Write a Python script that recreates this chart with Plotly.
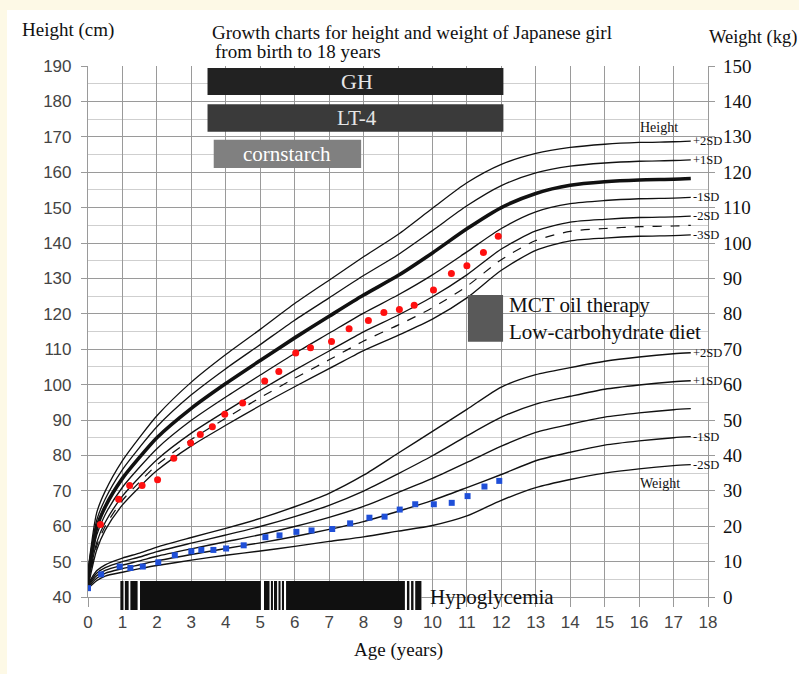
import plotly.graph_objects as go

# ---------------- data ----------------
ages = [0, 0.25, 0.5, 1, 1.5, 2, 3, 4, 5, 6, 7, 8, 9, 10, 11, 12, 13, 14, 15, 16, 17, 17.5]

h_p2sd = [47.3, 63.7, 69.9, 78.5, 85.1, 91.2, 100.7, 108.5, 115.6, 122.9, 129.5, 136.1, 142.4, 149.8, 157.0, 162.2, 165.3, 167.0, 167.9, 168.4, 168.6, 168.8]
h_p1sd = [46.4, 61.6, 67.7, 76.0, 82.3, 88.1, 97.1, 104.5, 111.3, 118.2, 124.5, 130.8, 136.7, 143.5, 150.5, 156.2, 159.8, 161.7, 162.6, 163.1, 163.3, 163.5]
h_mean = [45.5, 59.5, 65.5, 73.5, 79.5, 85.0, 93.3, 100.3, 106.8, 113.2, 119.3, 125.3, 130.8, 137.2, 144.0, 150.0, 154.0, 156.3, 157.3, 157.8, 158.0, 158.2]
h_m1sd = [44.6, 57.4, 63.3, 71.0, 76.7, 81.9, 89.9, 96.5, 102.7, 108.8, 114.5, 120.2, 125.3, 131.0, 137.5, 144.1, 148.8, 151.1, 152.0, 152.5, 152.7, 152.9]
h_m2sd = [43.7, 55.3, 61.1, 68.5, 73.9, 78.8, 86.3, 92.5, 98.4, 104.1, 109.5, 114.9, 119.6, 124.8, 131.0, 138.3, 143.4, 145.9, 146.7, 147.2, 147.4, 147.6]
h_m25sd = [43.3, 54.3, 60.0, 67.3, 72.5, 77.3, 84.5, 90.5, 96.3, 101.8, 107.0, 112.3, 116.8, 121.7, 127.8, 135.3, 140.7, 143.3, 144.1, 144.6, 144.8, 145.0]
h_m3sd = [42.8, 53.2, 58.9, 66.0, 71.1, 75.7, 82.7, 88.5, 94.1, 99.4, 104.5, 109.6, 113.9, 118.5, 124.5, 132.3, 137.9, 140.6, 141.4, 141.9, 142.1, 142.3]

w_p2sd = [3.6, 7.4, 9.1, 11.0, 12.4, 14.1, 16.8, 19.4, 22.2, 25.5, 29.3, 34.4, 40.6, 46.8, 53.0, 59.3, 62.8, 64.8, 66.6, 67.8, 68.7, 69.0]
w_p1sd = [3.3, 6.7, 8.3, 10.0, 11.3, 12.8, 15.2, 17.5, 19.9, 22.7, 25.9, 29.9, 34.8, 39.9, 45.5, 50.8, 54.5, 56.7, 58.7, 59.9, 60.8, 61.1]
w_mean = [3.0, 6.0, 7.5, 9.0, 10.2, 11.5, 13.6, 15.6, 17.6, 19.9, 22.5, 25.6, 29.5, 33.5, 38.0, 42.6, 46.5, 48.8, 50.8, 52.0, 52.9, 53.2]
w_m1sd = [2.7, 5.3, 6.7, 8.0, 9.1, 10.2, 12.0, 13.7, 15.3, 17.1, 19.1, 21.3, 24.2, 27.3, 30.9, 34.6, 38.5, 40.9, 42.9, 44.1, 45.0, 45.3]
w_m2sd = [2.4, 4.6, 5.9, 7.0, 8.0, 8.9, 10.4, 11.8, 13.0, 14.3, 15.7, 17.0, 18.6, 20.2, 22.9, 27.3, 30.9, 33.2, 35.0, 36.2, 37.1, 37.4]

pt_h_age = [0.36, 0.89, 1.21, 1.57, 2.02, 2.49, 2.98, 3.26, 3.61, 3.97, 4.49, 5.13, 5.54, 6.03, 6.46, 7.07, 7.58, 8.14, 8.59, 9.04, 9.47, 10.03, 10.55, 11.0, 11.48, 11.91]
pt_height = [60.5, 67.6, 71.5, 71.5, 73.1, 79.2, 83.5, 85.9, 88.1, 91.6, 94.8, 101.0, 103.7, 108.9, 110.4, 112.2, 115.8, 118.1, 120.4, 121.2, 122.4, 126.7, 131.4, 133.6, 137.3, 141.9]

pt_w_age = [0.0, 0.38, 0.92, 1.23, 1.59, 2.04, 2.52, 3.0, 3.29, 3.64, 4.01, 4.52, 5.15, 5.56, 6.05, 6.49, 7.09, 7.61, 8.17, 8.61, 9.05, 9.50, 10.04, 10.56, 11.02, 11.51, 11.94]
pt_weight = [2.5, 6.4, 8.6, 8.2, 8.6, 9.8, 11.8, 12.9, 13.3, 13.3, 13.7, 14.6, 16.9, 17.4, 18.4, 18.8, 19.2, 20.8, 22.4, 22.7, 24.7, 26.2, 26.2, 26.6, 28.5, 31.2, 32.8]

treatments = ["GH", "LT-4", "cornstarch"]
treat_start = [3.47, 3.47, 3.65]
treat_end = [12.06, 12.06, 7.93]
treat_y0 = [181.8, 171.4, 161.2]
treat_y1 = [189.4, 179.2, 169.2]

mct_start, mct_end = 11.03, 12.05
mct_y0, mct_y1 = 112.1, 125.3

hypo_start = [0.94, 1.07, 1.23, 1.51, 5.11, 5.31, 5.40, 5.53, 5.63, 5.75, 9.26, 9.38, 9.50]
hypo_end = [1.03, 1.18, 1.44, 5.02, 5.27, 5.37, 5.49, 5.59, 5.69, 9.20, 9.33, 9.45, 9.68]

x_ticks = list(range(0, 19))
h_ticks = list(range(40, 191, 10))
w_ticks = list(range(0, 151, 10))

# ---------------- style ----------------
SERIF = "Liberation Serif, Times New Roman, serif"
SANS = "Liberation Sans, Arial, sans-serif"
LINE = "#111111"

fig = go.Figure()

h_curves = [
    (h_p2sd, 1.3, "solid", "+2SD"),
    (h_p1sd, 1.3, "solid", "+1SD"),
    (h_mean, 3.6, "solid", None),
    (h_m1sd, 1.3, "solid", "-1SD"),
    (h_m2sd, 1.3, "solid", "-2SD"),
    (h_m25sd, 1.2, "dash", None),
    (h_m3sd, 1.3, "solid", "-3SD"),
]
w_curves = [
    (w_p2sd, 1.4, "solid", "+2SD"),
    (w_p1sd, 1.4, "solid", "+1SD"),
    (w_mean, 1.4, "solid", None),
    (w_m1sd, 1.4, "solid", "-1SD"),
    (w_m2sd, 1.4, "solid", "-2SD"),
]

for ys, w, dash, _ in h_curves:
    fig.add_trace(go.Scatter(x=ages, y=ys, mode="lines",
                             line=dict(color=LINE, width=w, dash=dash, shape="spline", smoothing=0.7),
                             showlegend=False, hoverinfo="skip", yaxis="y"))
for ys, w, dash, _ in w_curves:
    fig.add_trace(go.Scatter(x=ages, y=ys, mode="lines",
                             line=dict(color=LINE, width=w, dash=dash, shape="spline", smoothing=0.7),
                             showlegend=False, hoverinfo="skip", yaxis="y2"))

fig.add_trace(go.Scatter(x=pt_h_age, y=pt_height, mode="markers",
                         marker=dict(symbol="circle", size=7, color="#ff1010", line=dict(width=0)),
                         showlegend=False, yaxis="y"))
fig.add_trace(go.Scatter(x=pt_w_age, y=pt_weight, mode="markers",
                         marker=dict(symbol="square", size=6, color="#1f4fd8", line=dict(width=0)),
                         showlegend=False, yaxis="y2"))

shapes = []
# cream frame on the top and left edges of the picture
shapes.append(dict(type="rect", xref="paper", yref="paper", x0=-88 / 620, x1=-81 / 620, y0=-77 / 531, y1=597 / 531,
                   fillcolor="#fdf9e6", line=dict(width=0), layer="below"))
shapes.append(dict(type="rect", xref="paper", yref="paper", x0=-88 / 620, x1=711 / 620, y0=587 / 531, y1=597 / 531,
                   fillcolor="#fdf9e6", line=dict(width=0), layer="below"))

fills = ["#222222", "#3a3a3a", "#808080"]
for i in range(len(treatments)):
    shapes.append(dict(type="rect", xref="x", yref="y", x0=treat_start[i], x1=treat_end[i],
                       y0=treat_y0[i], y1=treat_y1[i], fillcolor=fills[i], line=dict(width=0), layer="above"))
shapes.append(dict(type="rect", xref="x", yref="y", x0=mct_start, x1=mct_end, y0=mct_y0, y1=mct_y1,
                   fillcolor="#595959", line=dict(width=0), layer="above"))

# hypoglycemia bar (paper y so it can extend below the axis)
hy0, hy1 = -0.0245, 0.0301
shapes.append(dict(type="rect", xref="x", yref="paper", x0=min(hypo_start), x1=max(hypo_end), y0=hy0, y1=hy1,
                   fillcolor="white", line=dict(width=0), layer="above"))
for s, e in zip(hypo_start, hypo_end):
    shapes.append(dict(type="rect", xref="x", yref="paper", x0=s, x1=e, y0=hy0, y1=hy1,
                       fillcolor="#101010", line=dict(width=0), layer="above"))

ann = []
txt_colors = ["#e6e6e6", "#e6e6e6", "#ffffff"]
txt_sizes = [22, 21, 21]
for i, t in enumerate(treatments):
    ann.append(dict(x=(treat_start[i] + treat_end[i]) / 2 if i == 2 else 7.8, y=(treat_y0[i] + treat_y1[i]) / 2,
                    xref="x", yref="y", text=t, showarrow=False,
                    font=dict(family=SERIF, size=txt_sizes[i], color=txt_colors[i])))
ann.append(dict(x=12.15, y=122.5, xref="x", yref="y", text="MCT oil therapy", showarrow=False,
                xanchor="left", font=dict(family=SERIF, size=21, color="#111")))
ann.append(dict(x=12.15, y=115.0, xref="x", yref="y", text="Low-carbohydrate diet", showarrow=False,
                xanchor="left", font=dict(family=SERIF, size=21, color="#111")))
ann.append(dict(x=9.87, y=0.0, xref="x", yref="paper", text="Hypoglycemia", showarrow=False,
                xanchor="left", yanchor="middle", font=dict(family=SERIF, size=21, color="#111")))

for ys, _, _, lab in h_curves:
    if lab:
        ann.append(dict(x=17.55, y=ys[-1], xref="x", yref="y", text=lab, showarrow=False, xanchor="left",
                        xshift=-2, font=dict(family=SERIF, size=12.5, color="#111")))
for ys, _, _, lab in w_curves:
    if lab:
        ann.append(dict(x=17.55, y=ys[-1], xref="x", yref="y2", text=lab, showarrow=False, xanchor="left",
                        xshift=-2, font=dict(family=SERIF, size=12.5, color="#111")))
ann.append(dict(x=16.58, y=172.5, xref="x", yref="y", text="Height", showarrow=False,
                font=dict(family=SERIF, size=14, color="#111")))
ann.append(dict(x=16.6, y=32.0, xref="x", yref="y2", text="Weight", showarrow=False,
                font=dict(family=SERIF, size=14, color="#111")))

ann.append(dict(x=-0.1097, y=1.0678, xref="paper", yref="paper", text="Height (cm)", showarrow=False,
                xanchor="left", yanchor="middle", font=dict(family=SERIF, size=19, color="#111")))
ann.append(dict(x=0.9985, y=1.0546, xref="paper", yref="paper", text="Weight (kg)", showarrow=False,
                xanchor="left", yanchor="middle", font=dict(family=SERIF, size=18.5, color="#111")))
ann.append(dict(x=0.1968, y=1.064, xref="paper", yref="paper", text="Growth charts for height and weight of Japanese girl",
                showarrow=False, xanchor="left", yanchor="middle", font=dict(family=SERIF, size=19, color="#111")))
ann.append(dict(x=0.2016, y=1.0264, xref="paper", yref="paper", text="from birth to 18 years",
                showarrow=False, xanchor="left", yanchor="middle", font=dict(family=SERIF, size=19, color="#111")))
ann.append(dict(x=0.5, y=-0.0998, xref="paper", yref="paper", text="Age (years)", showarrow=False,
                xanchor="center", yanchor="middle", font=dict(family=SERIF, size=19, color="#111")))

GRID = "#9a9a9a"
fig.update_layout(
    width=799, height=674,
    margin=dict(l=88, r=91, t=66, b=77),
    paper_bgcolor="white", plot_bgcolor="white",
    showlegend=False,
    shapes=shapes, annotations=ann,
    xaxis=dict(range=[0, 18], tickvals=x_ticks, ticktext=[str(v) for v in x_ticks],
               showgrid=True, gridcolor=GRID, gridwidth=1.2, zeroline=False,
               showline=True, linecolor=GRID, linewidth=1.2, mirror=False,
               ticks="outside", ticklen=9, tickcolor=GRID, tickwidth=1,
               tickfont=dict(family=SANS, size=17, color="#444"), fixedrange=True),
    yaxis=dict(range=[40, 190], tickvals=h_ticks, ticktext=[str(v) for v in h_ticks],
               showgrid=True, gridcolor=GRID, gridwidth=1.2, zeroline=False,
               showline=True, linecolor=GRID, linewidth=1.2, mirror=True,
               ticks="outside", ticklen=6, tickcolor=GRID, tickwidth=1, ticklabelstandoff=6,
               minor=dict(dtick=5, tick0=0, showgrid=True, gridcolor="#cfcfcf", gridwidth=1, ticks=""),
               tickfont=dict(family=SANS, size=17, color="#444"), fixedrange=True),
    yaxis2=dict(range=[0, 150], tickvals=w_ticks, ticktext=[str(v) for v in w_ticks],
                overlaying="y", side="right", showgrid=False, zeroline=False,
                showline=True, linecolor=GRID, linewidth=1.2,
                ticks="outside", ticklen=6, tickcolor=GRID, tickwidth=1, ticklabelstandoff=4,
                tickfont=dict(family=SERIF, size=19, color="#111"), fixedrange=True),
)

fig.write_html("out.html", config={"displayModeBar": False},
               post_script="document.body.style.margin='0px';")
